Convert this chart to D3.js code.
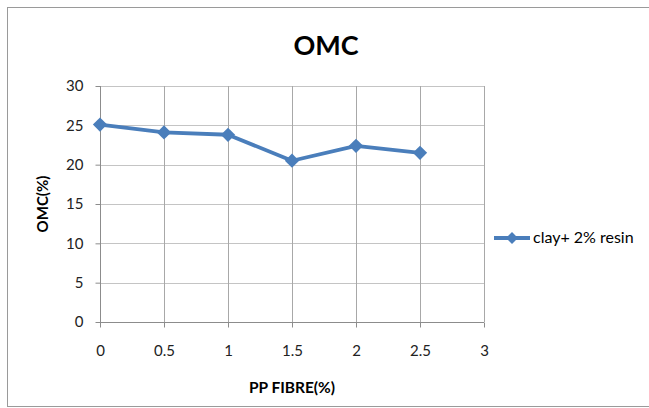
<!DOCTYPE html>
<html>
<head>
<meta charset="utf-8">
<script src="https://cdn.jsdelivr.net/npm/d3@7/dist/d3.min.js"></script>
<style>
  html, body { margin: 0; padding: 0; background: #fff; }
  svg { display: block; font-family: Lato, "Open Sans", sans-serif; }
</style>
</head>
<body>
<svg id="chart" width="649" height="408"></svg>
<script>
// OMC versus PP fibre content
const fibre = [0, 0.5, 1, 1.5, 2, 2.5];
const omc = [25.1, 24.1, 23.8, 20.5, 22.4, 21.5];
const xTicks = [0, 0.5, 1, 1.5, 2, 2.5, 3];
const yTicks = [0, 5, 10, 15, 20, 25, 30];
const seriesName = "clay+ 2% resin";

const svg = d3.select("#chart");
const blue = "#4a7ebb";

// outer chart frame
svg.append("rect")
  .attr("x", 7.5).attr("y", 7.5)
  .attr("width", 660).attr("height", 399)
  .attr("fill", "#fff").attr("stroke", "#9a9a9a").attr("stroke-width", 1);

const plot = { left: 100, right: 484, top: 86, bottom: 322 };

const x = d3.scaleLinear().domain([0, 3]).range([plot.left, plot.right]);
const y = d3.scaleLinear().domain([0, 30]).range([plot.bottom, plot.top]);

// gridlines
svg.append("g").selectAll("line").data(yTicks.filter(d => d > 0)).join("line")
  .attr("x1", plot.left).attr("x2", plot.right)
  .attr("y1", d => Math.round(y(d)) + 0.5).attr("y2", d => Math.round(y(d)) + 0.5)
  .attr("stroke", "#c4c4c4");
svg.append("g").selectAll("line").data(xTicks.filter(d => d > 0)).join("line")
  .attr("x1", d => Math.round(x(d)) + 0.5).attr("x2", d => Math.round(x(d)) + 0.5)
  .attr("y1", plot.top).attr("y2", plot.bottom)
  .attr("stroke", "#a8a8a8");

// axes
const xAxis = d3.axisBottom(x).tickValues(xTicks).tickSize(5).tickPadding(18)
  .tickFormat(d => String(d));
const yAxis = d3.axisLeft(y).tickValues(yTicks).tickSize(5).tickPadding(12)
  .tickFormat(d => String(d));

const gx = svg.append("g").attr("transform", `translate(0,${plot.bottom + 0.5})`).call(xAxis);
const gy = svg.append("g").attr("transform", `translate(${plot.left + 0.5},0)`).call(yAxis);
[gx, gy].forEach(g => {
  g.select(".domain").attr("stroke", "#8c8c8c");
  g.selectAll(".tick line").attr("stroke", "#8c8c8c");
  g.selectAll(".tick text").attr("fill", "#222").style("font-size", "15px")
    .style("font-family", "Lato, 'Open Sans', sans-serif");
});
gx.select(".domain").attr("d", `M${plot.left},0H${plot.right}`);
gy.select(".domain").attr("d", `M0,${plot.bottom}V${plot.top}`);

// series line and diamond markers
svg.append("path")
  .datum(fibre.map((f, i) => [f, omc[i]]))
  .attr("fill", "none").attr("stroke", blue).attr("stroke-width", 3.8)
  .attr("stroke-linejoin", "round")
  .attr("d", d3.line().x(d => x(d[0])).y(d => y(d[1])));

const diamond = d3.symbol().type(d3.symbolDiamond2).size(130);
svg.append("g").selectAll("path").data(fibre).join("path")
  .attr("transform", (f, i) => `translate(${x(f)},${y(omc[i])})`)
  .attr("d", diamond).attr("fill", blue);

// titles
svg.append("text").attr("x", 326).attr("y", 55).attr("text-anchor", "middle")
  .style("font-size", "27px").style("font-weight", "bold").attr("fill", "#000")
  .text("OMC");
svg.append("text").attr("transform", "translate(48,204) rotate(-90)")
  .attr("text-anchor", "middle")
  .style("font-size", "15px").style("font-weight", "bold").attr("fill", "#000")
  .text("OMC(%)");
svg.append("text").attr("x", 292).attr("y", 393).attr("text-anchor", "middle")
  .style("font-size", "15.5px").style("font-weight", "bold").attr("fill", "#000")
  .text("PP FIBRE(%)");

// legend
const lg = svg.append("g");
lg.append("line").attr("x1", 494).attr("x2", 530).attr("y1", 238).attr("y2", 238)
  .attr("stroke", blue).attr("stroke-width", 3.8);
lg.append("path").attr("transform", "translate(512,238)")
  .attr("d", d3.symbol().type(d3.symbolDiamond2).size(90)).attr("fill", blue);
lg.append("text").attr("x", 533).attr("y", 243)
  .style("font-size", "16px").attr("fill", "#000").text(seriesName);
</script>
</body>
</html>
